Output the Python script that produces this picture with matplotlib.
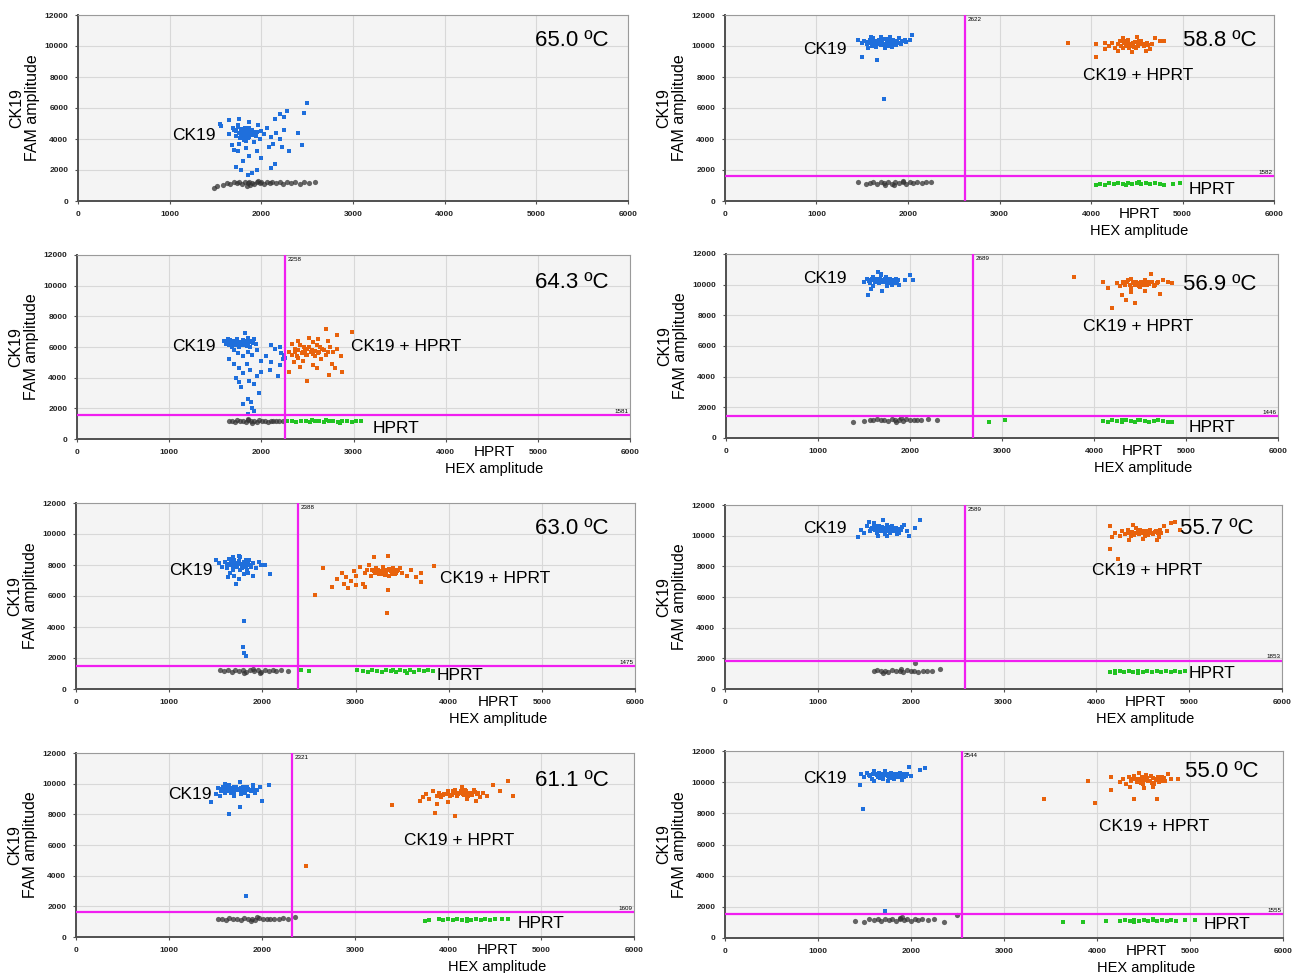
import matplotlib.pyplot as plt

plt.rcParams['font.family'] = ['Liberation Sans', 'DejaVu Sans']

# panel order: left column top->bottom, then right column top->bottom
temps = ['65.0 ºC', '64.3 ºC', '63.0 ºC', '61.1 ºC', '58.8 ºC', '56.9 ºC', '55.7 ºC', '55.0 ºC']
thr_hex = [None, 2258, 2388, 2321, 2622, 2689, 2589, 2544]
thr_fam = [None, 1581, 1475, 1609, 1582, 1446, 1853, 1555]

# droplet clusters (HEX, FAM)
ck19_650 = [(1550,4950),(1560,4850),(1650,5200),(1700,4600),(1720,4200),(1740,4900),(1760,5300),(1780,4500),
            (1800,4100),(1820,4700),(1830,3900),(1850,4400),(1870,5100),(1880,4300),(1900,4600),(1920,3800),
            (1940,4200),(1960,4900),(1980,4000),(2000,4500),(2030,4300),(2060,4700),(2100,4100),(2130,3700),
            (2160,4400),(2200,4000),(2230,3500),(2250,4600),(2150,5300),(2200,5600),(2280,5800),(2250,5400),
            (2500,6300),(2470,5700),(2400,4400),(2440,3600),(2300,3200),(2150,2400),(2100,2100),(1950,2000),
            (1900,1800),(1850,1700),(1780,2000),(1720,2200),(1800,2600),(1870,2900),(1750,3200),(1680,3600),
            (1700,3300),(1760,3700),(1830,3400),(1950,3200),(2000,2800),(2080,3500),(1650,4300),(1690,4700),
            (1810,4350),(1860,4150),(1770,4050),(1910,4450),(1780,4300),(1800,4450),(1820,4200),(1840,4550),
            (1860,4350),(1880,4500),(1760,4400),(1790,4650),(1850,4050),(1900,4250),(1720,4500),(1740,4750),
            (1810,3950),(1870,4700),(1950,4450)]
neg_650 = [(1480,850),(1520,950),(1580,1050),(1620,1150),(1660,1100),(1700,1200),(1730,1150),(1760,1250),
           (1790,1100),(1820,1200),(1850,1150),(1870,1250),(1900,1150),(1920,1100),(1950,1200),(1980,1150),
           (2000,1250),(2030,1100),(2060,1200),(2090,1150),(2120,1250),(2160,1150),(2200,1200),(2240,1100),
           (2280,1200),(2320,1150),(2370,1200),(2420,1100),(2470,1250),(2520,1150),(2580,1200),(1880,1050),
           (1960,1300),(1840,1000)]

ck19_643 = [(1600,6400),(1620,6200),(1640,6500),(1660,6300),(1680,6100),(1700,6400),(1720,6200),(1740,6500),
            (1760,6000),(1780,6300),(1800,6100),(1820,6400),(1840,6200),(1860,6600),(1880,6000),(1900,6300),
            (1920,6500),(1940,6200),(1820,6900),(1700,5800),(1750,5600),(1800,5400),(1850,5700),(1900,5500),
            (1950,5800),(1650,5200),(1700,4900),(1760,4600),(1800,4300),(1840,4900),(1880,4500),(1950,4100),
            (2000,4400),(1720,4000),(1760,3700),(1780,3400),(1870,3800),(1920,3600),(1980,3000),(1850,2600),
            (1890,2400),(1800,2300),(1900,2000),(1920,1800),(1860,1600),(2100,6100),(2150,5900),(2200,6000),
            (2210,5600),(2230,5200),(2100,5000),(2050,5400),(2200,4800),(2180,4100),(2090,4500),(2000,5100),
            (2250,5500),(2260,5300),(1620,6350),(1660,6450),(1700,6250),(1740,6350),(1780,6150),(1800,6450),
            (1830,6300),(1860,6150),(1880,6400),(1910,6250),(1680,6000),(1760,6200),(1720,6100),(1840,6050),
            (1650,6150)]
both_643 = [(2300,5700),(2330,5500),(2360,5900),(2390,5400),(2420,6100),(2450,5700),(2480,5900),(2500,5500),
            (2520,6000),(2550,5800),(2580,5400),(2600,6100),(2630,5700),(2660,5900),(2700,5500),(2740,6000),
            (2780,5700),(2820,5900),(2860,5400),(2350,5000),(2450,5100),(2560,4800),(2650,5200),(2770,4900),
            (2400,6400),(2520,6600),(2620,6500),(2720,6400),(2820,6800),(2700,7200),(2980,7000),(2500,3800),
            (2880,4400),(2730,4200),(2420,4700),(2300,4400),(2600,4600),(2800,4600),(2330,6200),(2560,6300),
            (2360,5650),(2400,5800),(2440,5600),(2470,5750),(2500,5850),(2540,5650),(2580,5750),(2620,5600),
            (2680,5800),(2720,5650),(2400,5300),(2480,5450),(2560,5550),(2640,6000),(2460,6000)]
hprt_643 = [(2280,1150),(2330,1200),(2380,1100),(2430,1150),(2480,1200),(2530,1100),(2580,1150),(2630,1200),
            (2680,1100),(2730,1150),(2780,1200),(2830,1100),(2880,1150),(2930,1200),(2980,1100),(3030,1150),
            (3080,1200),(2550,1250),(2700,1250),(2850,1050)]
neg_643 = [(1650,1150),(1680,1200),(1710,1100),(1740,1250),(1770,1150),(1800,1200),(1830,1100),(1860,1250),
           (1890,1150),(1920,1200),(1950,1100),(1980,1250),(2010,1150),(2040,1200),(2070,1100),(2100,1200),
           (2130,1150),(2160,1200),(2190,1150),(2230,1150),(1900,1050),(1850,1300)]

ck19_630 = [(1500,8300),(1540,8100),(1570,7900),(1600,8200),(1620,7800),(1640,8400),(1660,8000),(1680,7700),
            (1700,8300),(1720,7900),(1740,8100),(1760,8500),(1780,7800),(1800,8200),(1820,8000),(1840,7700),
            (1860,8300),(1880,7900),(1900,8100),(1930,7800),(1960,8200),(1990,8000),(2030,8000),(2080,7400),
            (1650,7500),(1700,7300),(1750,7100),(1800,7400),(1850,7500),(1720,6800),(1630,7200),(1900,7300),
            (1800,4400),(1790,2700),(1800,2300),(1830,2100),(1750,8600),(1680,8500),(1620,8050),(1660,8250),
            (1690,7950),(1710,8100),(1730,7850),(1750,8250),(1770,8050),(1790,7950),(1810,8150),(1830,7900),
            (1850,8100),(1870,8000),(1690,7850),(1760,7700),(1820,8350)]
both_630 = [(2560,6050),(2650,7800),(2750,6600),(2800,7100),(2850,7500),(2880,6800),(2900,7200),(2950,7000),
            (2980,7600),(3000,7300),(3050,7900),(3080,6800),(3100,7500),(3120,7700),(3150,8000),(3170,7300),
            (3200,7600),(3220,7800),(3250,7400),(3270,7600),(3300,7900),(3320,7500),(3340,7700),(3360,7300),
            (3380,7600),(3400,7800),(3420,7400),(3450,7600),(3480,7800),(3500,7500),(3550,7300),(3600,7700),
            (3650,7200),(3700,7500),(3840,7950),(3340,4900),(3200,8500),(3350,8600),(3100,6600),(3350,6400),
            (3000,6700),(2920,6500),(3700,6900),(3180,7650),(3210,7500),(3240,7700),(3280,7450),(3310,7650),
            (3330,7550),(3360,7750),(3390,7450),(3410,7650),(3440,7500),(3460,7700),(3290,7750),(3230,7550),
            (3370,7650),(3320,7350)]
hprt_630 = [(2420,1200),(2500,1150),(3020,1200),(3080,1150),(3130,1100),(3180,1200),(3230,1150),(3280,1100),
            (3330,1200),(3380,1150),(3430,1100),(3480,1200),(3530,1150),(3580,1250),(3630,1100),(3680,1200),
            (3730,1150),(3780,1200),(3830,1150),(3400,1250),(3550,1050)]
neg_630 = [(1550,1250),(1590,1150),(1630,1200),(1670,1100),(1710,1250),(1750,1150),(1790,1200),(1830,1100),
           (1870,1250),(1910,1150),(1950,1200),(1990,1100),(2030,1250),(2070,1150),(2110,1200),(2150,1150),
           (2200,1200),(2280,1150),(1800,1050),(1900,1300),(1980,1050)]

ck19_611 = [(1450,8800),(1500,9300),(1530,9700),(1560,9500),(1580,9800),(1600,9400),(1620,9700),(1640,9900),
            (1660,9500),(1680,9700),(1700,9400),(1720,9800),(1740,9600),(1760,10100),(1780,9500),(1800,9700),
            (1820,9400),(1840,9800),(1860,9600),(1880,9500),(1900,9700),(1920,9400),(1950,9600),(1980,9800),
            (2000,8900),(2080,9900),(1550,9200),(1700,9200),(1850,9200),(1650,8000),(1760,8500),(1830,2700),
            (1600,10000),(1900,9900),(1570,9650),(1610,9550),(1650,9650),(1690,9550),(1730,9650),(1770,9700),
            (1810,9550),(1850,9650),(1890,9600),(1930,9550),(1600,9800),(1700,9800),(1800,9800),(1670,9400),
            (1770,9350)]
both_611 = [(3400,8600),(2470,4600),(3700,8900),(3730,9100),(3760,9300),(3800,9000),(3840,9500),(3860,8100),
            (3880,9200),(3900,9400),(3930,9100),(3960,9300),(4000,9500),(4020,9200),(4050,9400),(4080,7900),
            (4080,9600),(4100,9200),(4130,9400),(4160,9300),(4190,9500),(4220,9200),(4250,9400),(4280,9600),
            (4310,9300),(4340,9100),(4380,9400),(4420,9200),(4480,9900),(4560,9500),(4650,10200),(4700,9200),
            (4000,8800),(3880,8700),(4150,9800),(4200,9000),(4300,8900),(4000,9350),(4040,9250),(4070,9450),
            (4110,9300),(4140,9500),(4170,9250),(4200,9400),(4230,9350),(4260,9250),(4290,9450),(4050,9550),
            (4180,9600),(3950,9250),(4320,9400),(4100,9400)]
hprt_611 = [(3750,1050),(3800,1100),(3900,1150),(3950,1100),(4000,1150),(4050,1100),(4100,1150),(4150,1100),
            (4200,1150),(4250,1100),(4300,1150),(4350,1100),(4400,1150),(4450,1100),(4500,1150),(4580,1150),
            (4650,1200),(3900,1200),(4200,1050)]
neg_611 = [(1530,1150),(1570,1200),(1610,1100),(1650,1250),(1690,1150),(1730,1200),(1770,1100),(1810,1250),
           (1850,1150),(1890,1200),(1930,1100),(1970,1250),(2010,1150),(2050,1200),(2090,1150),(2130,1200),
           (2180,1150),(2230,1250),(2280,1150),(2350,1300),(1880,1050),(1950,1300)]

ck19_588 = [(1450,10400),(1500,10200),(1520,10300),(1550,10100),(1580,10400),(1600,10200),(1620,10500),
            (1640,10300),(1660,10100),(1680,10400),(1700,10200),(1720,10350),(1740,10150),(1760,10450),
            (1780,10250),(1800,10300),(1820,10100),(1840,10400),(1860,10200),(1880,10300),(1900,10500),
            (1920,10150),(1950,10350),(1980,10250),(2020,10400),(2040,10700),(1560,9900),(1610,10000),
            (1650,9950),(1700,10050),(1750,9900),(1790,10000),(1830,9950),(1870,10050),(1500,9300),
            (1660,9100),(1740,6600),(1600,10600),(1700,10550),(1800,10600),(1560,10250),(1590,10350),
            (1630,10250),(1670,10300),(1710,10250),(1730,10450),(1770,10350),(1810,10200),(1850,10300),
            (1890,10200),(1640,10150),(1690,10200),(1780,10150),(1930,10300),(1970,10400)]
both_588 = [(3750,10200),(4050,10100),(4050,9300),(4150,9800),(4200,10000),(4230,10200),(4260,9900),
            (4290,10100),(4320,10300),(4350,9900),(4380,10100),(4400,10400),(4430,10000),(4460,10200),
            (4490,9900),(4520,10100),(4550,10300),(4580,10000),(4610,10200),(4640,9800),(4670,10100),
            (4700,10500),(4750,10300),(4800,10300),(4300,9700),(4450,9600),(4600,9700),(4350,10500),
            (4500,10600),(4150,10200),(4300,10100),(4330,10000),(4360,10200),(4390,10000),(4420,10150),
            (4450,10050),(4480,10250),(4510,10000),(4540,10150),(4570,10100),(4410,9900),(4470,9950),
            (4360,10350),(4620,10050),(4530,10300)]
hprt_588 = [(4050,1050),(4100,1100),(4150,1050),(4200,1150),(4250,1100),(4300,1150),(4350,1100),(4400,1150),
            (4450,1100),(4500,1150),(4550,1100),(4600,1150),(4650,1100),(4700,1150),(4750,1100),(4800,1050),
            (4900,1100),(4970,1130),(4380,1050),(4520,1200)]
neg_588 = [(1450,1200),(1540,1100),(1580,1150),(1620,1200),(1660,1100),(1700,1250),(1740,1150),(1780,1200),
           (1820,1100),(1860,1250),(1900,1150),(1940,1200),(1980,1100),(2020,1250),(2060,1150),(2100,1200),
           (2150,1150),(2200,1250),(2250,1200),(1850,1050),(1950,1300),(1750,1050)]

ck19_569 = [(1500,10200),(1530,10400),(1540,9300),(1560,10100),(1580,10300),(1600,10500),(1620,10200),
            (1640,10400),(1660,10100),(1680,10600),(1700,10300),(1720,10200),(1740,10500),(1760,10100),
            (1780,10400),(1800,10200),(1820,10300),(1840,10100),(1860,10200),(1880,10000),(1950,10300),
            (2000,10600),(2030,10300),(1650,10800),(1700,9600),(1600,9900),(1750,9900),(1580,9700),
            (1690,10700),(1800,10000),(1550,10250),(1590,10350),(1630,10300),(1650,10200),(1670,10400),
            (1710,10250),(1730,10350),(1770,10250),(1790,10300),(1830,10200),(1870,10300),(1610,10400),
            (1690,10150),(1750,10400),(1850,10350)]
both_569 = [(3780,10500),(4100,10200),(4150,9800),(4200,8500),(4250,10100),(4280,9900),(4310,10200),
            (4340,10000),(4370,10300),(4400,9800),(4430,10100),(4460,10200),(4490,9900),(4520,10100),
            (4550,10300),(4580,10000),(4610,10200),(4620,10700),(4650,9900),(4680,10100),(4720,9400),
            (4750,10300),(4800,10200),(4850,10100),(4350,9000),(4450,8800),(4400,9500),(4300,9300),
            (4550,9600),(4320,10100),(4360,10150),(4390,10000),(4420,10200),(4450,10000),(4480,10100),
            (4510,10200),(4540,9950),(4570,10150),(4600,10050),(4630,10150),(4660,10000),(4400,10350),
            (4500,9850),(4700,10200)]
hprt_569 = [(2860,1050),(3030,1150),(4100,1100),(4150,1050),(4200,1150),(4250,1100),(4300,1050),(4350,1150),
            (4400,1100),(4450,1050),(4500,1150),(4550,1100),(4600,1050),(4650,1100),(4700,1150),(4750,1100),
            (4800,1050),(4850,1050),(4480,1200),(4300,1200)]
neg_569 = [(1380,1050),(1500,1100),(1560,1200),(1600,1150),(1640,1250),(1680,1150),(1720,1200),(1760,1100),
           (1800,1250),(1840,1150),(1880,1200),(1920,1100),(1960,1250),(2000,1150),(2040,1200),(2080,1150),
           (2120,1200),(2200,1250),(2290,1200),(1850,1050),(1900,1300)]

ck19_557 = [(1430,9900),(1470,10400),(1500,10200),(1530,10600),(1560,10300),(1580,10500),(1600,10800),
            (1620,10400),(1640,10200),(1660,10600),(1680,10300),(1700,10500),(1720,10100),(1740,10700),
            (1760,10400),(1780,10200),(1800,10600),(1820,10300),(1840,10500),(1870,10200),(1900,10400),
            (1930,10700),(1960,10300),(1980,10000),(2050,10500),(2100,11000),(1550,10900),(1650,10000),
            (1750,10000),(1850,10100),(1700,11000),(1570,10450),(1610,10550),(1630,10350),(1670,10450),
            (1690,10550),(1710,10350),(1730,10450),(1770,10550),(1790,10350),(1810,10450),(1850,10350),
            (1880,10450),(1650,10650),(1750,10300),(1910,10550)]
both_557 = [(4150,9100),(4150,10600),(4170,9900),(4200,10200),(4230,8500),(4250,10000),(4280,10300),
            (4310,10100),(4340,10400),(4370,10000),(4400,10200),(4430,10500),(4460,10100),(4490,10300),
            (4520,10000),(4550,10200),(4580,10400),(4610,10100),(4640,10300),(4670,9900),(4700,10200),
            (4730,10600),(4760,10300),(4800,10800),(4850,10900),(4900,10400),(4350,9700),(4500,9800),
            (4650,9700),(4400,10700),(4380,10250),(4420,10150),(4450,10300),(4480,10200),(4510,10150),
            (4540,10300),(4570,10250),(4600,10150),(4630,10250),(4660,10200),(4410,10050),(4560,10050),
            (4690,10350),(4470,10400),(4350,10150)]
hprt_557 = [(4150,1100),(4200,1050),(4250,1150),(4300,1100),(4350,1150),(4400,1100),(4450,1150),(4500,1100),
            (4550,1150),(4600,1100),(4650,1150),(4700,1100),(4750,1150),(4800,1100),(4850,1150),(4900,1100),
            (4950,1150),(4200,1150),(4450,1050),(4650,1200)]
neg_557 = [(1600,1150),(1640,1250),(1680,1150),(1720,1200),(1760,1100),(1800,1250),(1840,1150),(1880,1200),
           (1920,1100),(1960,1250),(2000,1150),(2040,1200),(2080,1100),(2130,1200),(2180,1150),(2230,1200),
           (2050,1700),(2320,1300),(1700,1050),(1900,1300)]

ck19_550 = [(1450,9800),(1460,10500),(1480,8300),(1500,10300),(1530,10600),(1560,10400),(1580,10200),
            (1600,10700),(1620,10500),(1640,10300),(1660,10600),(1680,10400),(1700,10200),(1720,10700),
            (1740,10500),(1760,10300),(1780,10600),(1800,10400),(1820,10200),(1840,10500),(1860,10300),
            (1880,10600),(1900,10400),(1930,10300),(1960,10500),(1980,11000),(2000,10400),(2100,10800),
            (2150,10900),(1720,1750),(1600,10100),(1750,10100),(1900,10150),(1550,10450),(1590,10550),
            (1630,10450),(1650,10400),(1690,10550),(1710,10450),(1750,10400),(1770,10500),(1810,10550),
            (1830,10350),(1870,10450),(1910,10550),(1950,10400),(1670,10250),(1790,10250)]
both_550 = [(3430,8950),(3900,10050),(3980,8650),(4150,9500),(4150,10300),(4250,10000),(4280,10200),
            (4310,9900),(4340,10300),(4370,10100),(4400,8900),(4400,10400),(4430,10000),(4460,10200),
            (4490,9900),(4520,10300),(4550,10100),(4580,10400),(4610,9900),(4640,10200),(4650,8900),
            (4670,10000),(4700,10300),(4730,10100),(4760,10500),(4800,10200),(4870,10200),(4350,9700),
            (4500,9600),(4600,9700),(4450,10600),(4420,10200),(4450,10100),(4480,10300),(4510,10150),
            (4540,10250),(4570,10050),(4600,10250),(4630,10150),(4660,10300),(4690,10100),(4720,10250),
            (4470,9950),(4590,9950),(4530,10450),(4380,10200)]
hprt_550 = [(3630,1050),(3850,1050),(4100,1100),(4250,1100),(4300,1150),(4350,1100),(4400,1150),(4450,1100),
            (4500,1150),(4550,1100),(4600,1150),(4650,1100),(4700,1150),(4750,1100),(4800,1150),(4850,1100),
            (4950,1150),(5050,1150),(4400,1050),(4600,1200)]
neg_550 = [(1400,1100),(1500,1050),(1550,1250),(1600,1150),(1640,1200),(1680,1100),(1720,1250),(1760,1150),
           (1800,1200),(1840,1100),(1880,1250),(1920,1150),(1960,1200),(2000,1100),(2040,1250),(2080,1150),
           (2120,1200),(2180,1150),(2250,1250),(2350,1050),(2500,1500),(1880,1300),(1900,1320)]

ck19_sets = [ck19_650, ck19_643, ck19_630, ck19_611, ck19_588, ck19_569, ck19_557, ck19_550]
both_sets = [None, both_643, both_630, both_611, both_588, both_569, both_557, both_550]
hprt_sets = [None, hprt_643, hprt_630, hprt_611, hprt_588, hprt_569, hprt_557, hprt_550]
neg_sets = [neg_650, neg_643, neg_630, neg_611, neg_588, neg_569, neg_557, neg_550]

# axes boxes in pixels (left, top, right, bottom)
boxes = [(78, 15, 628, 201), (77, 255, 630, 439), (76, 503, 635, 689), (76, 753, 634, 937),
         (725, 15, 1274, 201), (726, 254, 1278, 438), (725, 505, 1282, 689), (725, 751, 1283, 938)]
# label anchors: CK19, CK19 + HPRT, HPRT, temperature
label_pos = [((1025, 4258), None, None, (4985, 10387)),
             ((1031, 6065), (2973, 6065), (3212, 717), (4969, 10239)),
             ((998, 7677), (3907, 7161), (3875, 839), (4927, 10387)),
             ((989, 9326), (3527, 6261), (4753, 848), (4935, 10239)),
             ((852, 9742), (3913, 8065), (5071, 774), (5005, 10387)),
             ((837, 10370), (3880, 7304), (5033, 717), (4967, 10043)),
             ((840, 10435), (3953, 7696), (4998, 1043), (4901, 10500)),
             ((839, 10267), (4022, 7187), (5150, 898), (4946, 10716))]

W, H = 1304, 973
fig = plt.figure(figsize=(W / 100, H / 100), dpi=100)
magenta = '#f01ef0'

for i in range(8):
    l, t, r, b = boxes[i]
    ax = fig.add_axes([l / W, 1 - b / H, (r - l) / W, (b - t) / H])
    ax.set_xlim(0, 6000)
    ax.set_ylim(0, 12000)
    ax.set_facecolor('#f4f4f4')
    ax.set_xticks(range(0, 6001, 1000))
    ax.set_yticks(range(0, 12001, 2000))
    ax.grid(color='#d8d8d8', lw=0.8)
    ax.set_axisbelow(True)
    for s in ['top', 'right']:
        ax.spines[s].set_color('#9a9a9a')
        ax.spines[s].set_linewidth(0.8)
    for s in ['left', 'bottom']:
        ax.spines[s].set_color('#505050')
        ax.spines[s].set_linewidth(1.4)
    ax.tick_params(length=2, width=0.8, color='#505050', pad=5)
    for lab in ax.get_xticklabels() + ax.get_yticklabels():
        lab.set_fontweight('bold')
        lab.set_fontsize(6)
        lab.set_color('#222222')
    ax.set_ylabel('CK19\nFAM amplitude', fontsize=11.5, labelpad=3, linespacing=1.1)

    # negative droplets: dense dark band
    nx, ny = zip(*neg_sets[i])
    ax.scatter(nx, ny, s=14, c='#333333', alpha=0.75, lw=0, zorder=3)
    if hprt_sets[i]:
        gx, gy = zip(*hprt_sets[i])
        ax.scatter(gx, gy, s=5, c='#22c322', marker='s', lw=0, zorder=3)
    if both_sets[i]:
        ox, oy = zip(*both_sets[i])
        ax.scatter(ox, oy, s=5, c='#e8620c', marker='s', lw=0, zorder=3)
    cx, cy = zip(*ck19_sets[i])
    ax.scatter(cx, cy, s=5, c='#1f6fdc', marker='s', lw=0, zorder=3)

    if thr_hex[i]:
        ax.axvline(thr_hex[i], color=magenta, lw=1.6, zorder=4)
        ax.axhline(thr_fam[i], color=magenta, lw=1.6, zorder=4)
        ax.text(thr_hex[i] + 25, 11900, str(thr_hex[i]), fontsize=4.5, va='top', ha='left')
        ax.text(5980, thr_fam[i] + 80, str(thr_fam[i]), fontsize=4.5, va='bottom', ha='right')

    p_ck, p_both, p_hprt, p_temp = label_pos[i]
    ax.text(p_ck[0], p_ck[1], 'CK19', fontsize=12.5, va='center', ha='left', zorder=5)
    if p_both:
        ax.text(p_both[0], p_both[1], 'CK19 + HPRT', fontsize=12.5, va='center', ha='left', zorder=5)
    if p_hprt:
        ax.text(p_hprt[0], p_hprt[1], 'HPRT', fontsize=12.5, va='center', ha='left', zorder=5)
    ax.text(p_temp[0], p_temp[1], temps[i], fontsize=16, va='center', ha='left', zorder=5)

    if i > 0:
        ax.annotate('HPRT', xy=(4530, 0), xycoords=ax.get_xaxis_transform(), xytext=(0, -13),
                    textcoords='offset pixels', ha='center', va='center', fontsize=11)
        ax.annotate('HEX amplitude', xy=(4530, 0), xycoords=ax.get_xaxis_transform(), xytext=(0, -30),
                    textcoords='offset pixels', ha='center', va='center', fontsize=10.5)

fig.savefig('out.png', dpi=100, facecolor='white')
